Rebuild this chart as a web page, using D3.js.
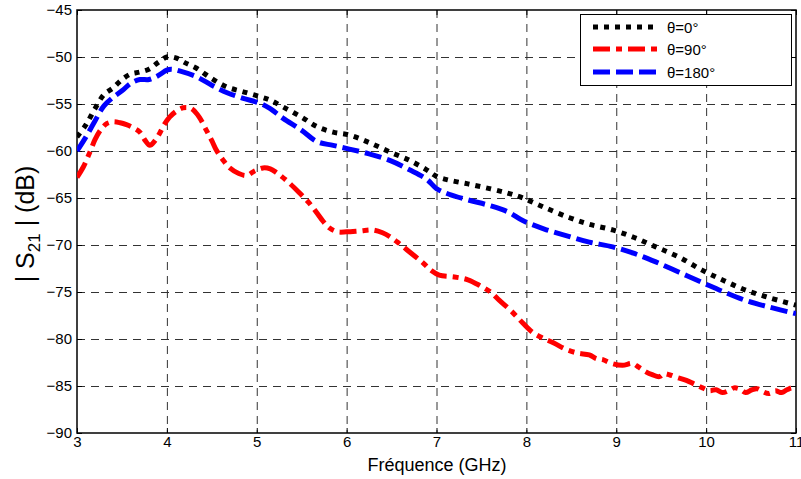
<!DOCTYPE html>
<html><head><meta charset="utf-8">
<script src="https://cdn.jsdelivr.net/npm/d3@7"></script>
<style>
body{margin:0;background:#fff;}
svg{display:block;font-family:"Liberation Sans",Arial,sans-serif;}
</style></head>
<body><svg id="c" width="801" height="479"></svg>
<script>
const xTicks=[3,4,5,6,7,8,9,10,11];
const yTicks=[-45,-50,-55,-60,-65,-70,-75,-80,-85,-90];
const seriesNames=["θ=0°","θ=90°","θ=180°"];

const freq0=[3.0,3.1,3.2,3.3,3.4,3.5,3.6,3.7,3.8,3.9,4.0,4.1,4.2,4.33,4.5,4.67,4.85,5.03,5.15,5.29,5.5,5.67,5.85,6.03,6.25,6.48,6.7,6.89,7.0,7.14,7.35,7.59,7.8,7.96,8.2,8.48,8.7,8.96,9.2,9.44,9.7,9.96,10.2,10.44,10.7,11.0];
const s21_0=[-58.5,-57.2,-55.5,-54.0,-53.3,-52.4,-51.8,-51.6,-51.3,-50.6,-50.0,-50.1,-50.6,-51.2,-52.3,-53.2,-53.7,-54.2,-54.6,-55.3,-56.4,-57.4,-58.0,-58.3,-59.1,-60.1,-61.0,-62.0,-62.7,-63.1,-63.5,-64.0,-64.5,-65.0,-66.0,-67.1,-67.8,-68.4,-69.2,-70.2,-71.3,-72.7,-73.8,-74.8,-75.6,-76.4];

const freq90=[3.0,3.07,3.14,3.2,3.26,3.33,3.4,3.48,3.55,3.62,3.7,3.76,3.81,3.86,3.92,3.97,4.03,4.1,4.18,4.25,4.29,4.36,4.44,4.5,4.55,4.62,4.7,4.8,4.89,4.98,5.07,5.15,5.22,5.35,5.48,5.58,5.67,5.74,5.81,5.9,6.0,6.15,6.29,6.4,6.48,6.58,6.67,6.76,6.85,6.94,7.03,7.2,7.35,7.48,7.6,7.7,7.83,7.96,8.07,8.18,8.3,8.44,8.57,8.7,8.78,8.85,8.95,9.07,9.18,9.25,9.33,9.4,9.48,9.53,9.59,9.68,9.78,9.87,9.96,10.04,10.11,10.18,10.25,10.31,10.37,10.44,10.51,10.57,10.63,10.7,10.77,10.84,10.9,10.96,11.0];
const s21_90=[-62.8,-61.7,-60.2,-58.8,-57.8,-57.1,-56.9,-57.0,-57.2,-57.5,-58.0,-58.9,-59.4,-59.0,-58.1,-57.2,-56.4,-55.8,-55.4,-55.4,-55.6,-56.4,-57.8,-58.9,-59.9,-60.9,-61.8,-62.4,-62.6,-62.1,-61.8,-61.9,-62.3,-63.3,-64.5,-65.5,-66.6,-67.5,-68.2,-68.6,-68.6,-68.5,-68.4,-68.7,-69.1,-69.8,-70.5,-71.2,-71.9,-72.7,-73.2,-73.4,-73.7,-74.3,-75.0,-75.9,-77.0,-78.3,-79.3,-79.9,-80.4,-81.1,-81.5,-81.7,-82.1,-82.2,-82.6,-82.8,-82.6,-83.0,-83.5,-83.8,-84.0,-83.7,-83.8,-84.1,-84.4,-84.8,-85.2,-85.5,-85.4,-85.7,-85.5,-85.2,-85.3,-85.7,-85.4,-85.3,-85.6,-85.8,-85.5,-85.7,-85.4,-85.2,-85.4];

const freq180=[3.0,3.1,3.2,3.3,3.4,3.5,3.6,3.7,3.8,3.9,4.0,4.05,4.15,4.33,4.5,4.67,4.85,5.03,5.15,5.29,5.5,5.67,5.85,6.03,6.25,6.48,6.7,6.89,7.0,7.14,7.35,7.59,7.8,7.96,8.2,8.48,8.7,8.96,9.2,9.44,9.7,9.96,10.2,10.44,10.7,11.0];
const s21_180=[-60.0,-58.5,-56.8,-55.2,-54.3,-53.6,-52.8,-52.4,-52.4,-52.0,-51.4,-51.3,-51.5,-52.1,-53.0,-53.8,-54.4,-54.9,-55.5,-56.5,-57.8,-59.0,-59.4,-59.8,-60.3,-61.0,-62.0,-63.0,-64.0,-64.6,-65.2,-65.8,-66.5,-67.4,-68.3,-69.1,-69.7,-70.2,-70.9,-71.8,-72.9,-74.0,-75.0,-75.9,-76.6,-77.3];

const L=77,R=796,T=10,B=433;
const svg=d3.select("#c");
const x=d3.scaleLinear().domain([3,11]).range([L,R]);
const y=d3.scaleLinear().domain([-90,-45]).range([B,T]);

// grid
const g=svg.append("g");
g.selectAll(".vg").data(xTicks.slice(1,-1)).join("line")
 .attr("x1",d=>x(d)+0.5).attr("x2",d=>x(d)+0.5).attr("y1",T).attr("y2",B)
 .attr("stroke","#333").attr("stroke-width",1).attr("stroke-dasharray","8,6");
g.selectAll(".hg").data(yTicks.slice(1,-1)).join("line")
 .attr("y1",d=>Math.round(y(d))+0.5).attr("y2",d=>Math.round(y(d))+0.5).attr("x1",L).attr("x2",R)
 .attr("stroke","#333").attr("stroke-width",1).attr("stroke-dasharray","8,6");

// frame
svg.append("rect").attr("x",L).attr("y",T).attr("width",R-L).attr("height",B-T)
 .attr("fill","none").attr("stroke","#000").attr("stroke-width",1.5);

// axes (inward ticks)
const ax=svg.append("g").attr("transform",`translate(0,${B})`)
 .call(d3.axisBottom(x).tickValues(xTicks).tickSize(-5).tickPadding(3).tickFormat(d3.format("d")));
const axT=svg.append("g").attr("transform",`translate(0,${T})`)
 .call(d3.axisTop(x).tickValues(xTicks).tickSize(-5).tickFormat(""));
const ay=svg.append("g").attr("transform",`translate(${L},0)`)
 .call(d3.axisLeft(y).tickValues(yTicks).tickSize(-5).tickPadding(5).tickFormat(d3.format("d")));
const ayR=svg.append("g").attr("transform",`translate(${R},0)`)
 .call(d3.axisRight(y).tickValues(yTicks).tickSize(-5).tickFormat(""));
[ax,axT,ay,ayR].forEach(a=>{a.select(".domain").remove();
 a.selectAll("line").attr("stroke","#000");
 a.selectAll("text").attr("font-size",15).attr("fill","#000").attr("font-family","Liberation Sans, Arial, sans-serif");});

// lines
const line=d3.line().x(d=>x(d[0])).y(d=>y(d[1])).curve(d3.curveCatmullRom);
const styles=[
 {c:"#000000",dash:"5,6"},
 {c:"#ff0000",dash:"17,6,6,6"},
 {c:"#0000ff",dash:"17,6"}];
const data=[d3.zip(freq0,s21_0),d3.zip(freq90,s21_90),d3.zip(freq180,s21_180)];
svg.append("clipPath").attr("id","pc").append("rect").attr("x",L).attr("y",T).attr("width",R-L).attr("height",B-T);
data.forEach((d,i)=>{
 svg.append("path").datum(d).attr("d",line).attr("fill","none")
  .attr("stroke",styles[i].c).attr("stroke-width",5).attr("stroke-dasharray",styles[i].dash)
  .attr("clip-path","url(#pc)");
});

// legend
const lg=svg.append("g");
lg.append("rect").attr("x",580.5).attr("y",14.5).attr("width",211).attr("height",71)
 .attr("fill","#fff").attr("stroke","#000").attr("stroke-width",1);
const ly=[27,49,72];
seriesNames.forEach((n,i)=>{
 lg.append("line").attr("x1",593).attr("x2",657).attr("y1",ly[i]).attr("y2",ly[i])
  .attr("stroke",styles[i].c).attr("stroke-width",5).attr("stroke-dasharray",styles[i].dash);
 lg.append("text").attr("x",667).attr("y",ly[i]+6).attr("font-size",15).text(n);
});

// labels
svg.append("text").attr("x",437).attr("y",471).attr("text-anchor","middle").attr("font-size",18).text("Fréquence (GHz)");
const yl=svg.append("text").attr("transform","translate(34,224) rotate(-90)").attr("text-anchor","middle").attr("font-size",25);
yl.append("tspan").text("| S");
yl.append("tspan").attr("font-size",17).attr("dy",6).text("21");
yl.append("tspan").attr("dy",-6).text(" | (dB)");
</script></body></html>
